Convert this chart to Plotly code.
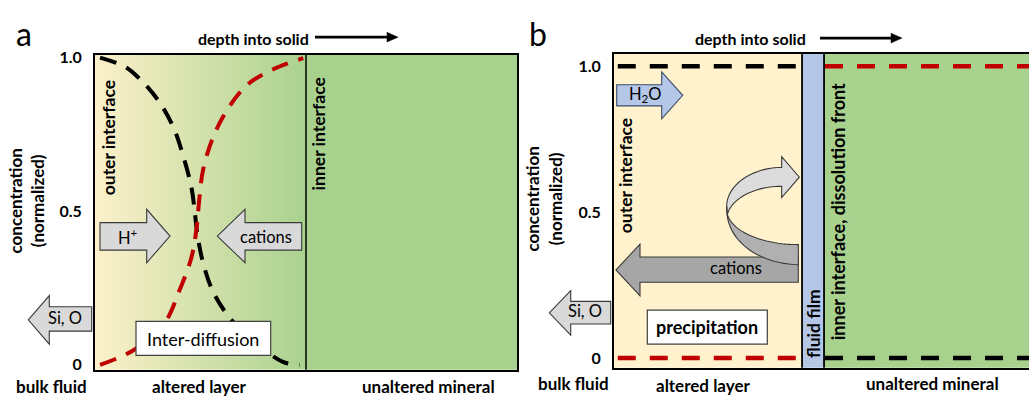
import plotly.graph_objects as go

W, H = 1029, 400
FONT = "Lato, 'Open Sans', sans-serif"

# ---------------- data ----------------
conc_tickvals = [0, 0.5, 1]
conc_ticktext = ["0", "0.5", "1.0"]
region_labels = ["bulk fluid", "altered layer", "unaltered mineral"]

# panel a: normalized concentration across altered layer (0 = outer, 1 = inner interface)
a_black_x = [0.024, 0.142, 0.213, 0.30, 0.371, 0.418, 0.458, 0.474, 0.485, 0.513, 0.561, 0.64, 0.75, 0.89, 0.97]
a_black_y = [1.0, 0.97, 0.93, 0.86, 0.774, 0.68, 0.574, 0.49, 0.426, 0.33, 0.236, 0.152, 0.078, 0.01, 0.0]
a_red_x = [0.024, 0.18, 0.324, 0.403, 0.458, 0.482, 0.493, 0.513, 0.561, 0.624, 0.719, 0.845, 0.987]
a_red_y = [0.0, 0.047, 0.13, 0.247, 0.352, 0.448, 0.53, 0.637, 0.743, 0.827, 0.91, 0.962, 0.998]

# panel b: step profiles (altered layer 0..1, fluid film 1..1.117, mineral beyond)
b_layer_x = [0.02, 0.99]
b_mineral_x = [1.122, 2.4]
b_black_layer = [1, 1]
b_black_mineral = [0, 0]
b_red_layer = [0, 0]
b_red_mineral = [1, 1]

# ---------------- layout geometry ----------------
A_RANGE_X = [0, 2]
A_RANGE_Y = [-0.0158, 1.0095]
B_RANGE_X = [0, 2.207]
B_RANGE_Y = [-0.0333, 1.0433]
FILM = [1.0, 1.117]

YELLOW = "#fff2cc"
GREEN = "#a9d18e"
BLUE = "#b4c7e7"
RED = "#c00000"


def P(x, y):
    return x / W, 1 - y / H


def poly(points, close=True):
    pts = [P(x, y) for x, y in points]
    return "M " + " L ".join(f"{a:.5f},{b:.5f}" for a, b in pts) + (" Z" if close else "")


def bez(p0, c1, c2, p3, n=24):
    out = []
    for i in range(n + 1):
        t = i / n
        mt = 1 - t
        x = mt**3 * p0[0] + 3 * mt**2 * t * c1[0] + 3 * mt * t**2 * c2[0] + t**3 * p3[0]
        y = mt**3 * p0[1] + 3 * mt**2 * t * c1[1] + 3 * mt * t**2 * c2[1] + t**3 * p3[1]
        out.append((x, y))
    return out


def right_arrow(x0, yb0, yb1, xh, yh0, yh1, xt):
    return [(x0, yb0), (xh, yb0), (xh, yh0), (xt, (yh0 + yh1) / 2), (xh, yh1), (xh, yb1), (x0, yb1)]


def left_arrow(xt, xh, yh0, yh1, x1, yb0, yb1):
    return [(xt, (yh0 + yh1) / 2), (xh, yh0), (xh, yb0), (x1, yb0), (x1, yb1), (xh, yb1), (xh, yh1)]


fig = go.Figure()

# gradient fill of altered layer (panel a)
fig.add_trace(go.Scatter(
    x=[0, 1, 1, 0, 0], y=[A_RANGE_Y[0], A_RANGE_Y[0], A_RANGE_Y[1], A_RANGE_Y[1], A_RANGE_Y[0]],
    mode="lines", line=dict(width=0), fill="toself",
    fillgradient=dict(type="horizontal", colorscale=[[0, "#fdf1ca"], [1, GREEN]]),
    hoverinfo="skip", showlegend=False, xaxis="x", yaxis="y"))

dash_a = "17px,11px"
fig.add_trace(go.Scatter(x=a_black_x, y=a_black_y, mode="lines",
                         line=dict(color="black", width=4, dash=dash_a, shape="spline", smoothing=1.0),
                         showlegend=False, xaxis="x", yaxis="y"))
fig.add_trace(go.Scatter(x=a_red_x, y=a_red_y, mode="lines",
                         line=dict(color=RED, width=4, dash=dash_a, shape="spline", smoothing=1.0),
                         showlegend=False, xaxis="x", yaxis="y"))

dash_b = "18px,14px"
fig.add_trace(go.Scatter(x=b_layer_x, y=b_black_layer, mode="lines",
                         line=dict(color="black", width=4.5, dash=dash_b), showlegend=False, xaxis="x2", yaxis="y2"))
fig.add_trace(go.Scatter(x=b_mineral_x, y=b_black_mineral, mode="lines",
                         line=dict(color="black", width=4.5, dash=dash_b), showlegend=False, xaxis="x2", yaxis="y2"))
fig.add_trace(go.Scatter(x=b_layer_x, y=b_red_layer, mode="lines",
                         line=dict(color=RED, width=4.5, dash=dash_b), showlegend=False, xaxis="x2", yaxis="y2"))
fig.add_trace(go.Scatter(x=b_mineral_x, y=b_red_mineral, mode="lines",
                         line=dict(color=RED, width=4.5, dash=dash_b), showlegend=False, xaxis="x2", yaxis="y2"))

shapes = []
# panel a fills
shapes.append(dict(type="rect", xref="x", yref="y domain", x0=1, x1=2, y0=0, y1=1,
                   fillcolor=GREEN, line=dict(width=0), layer="below"))
shapes.append(dict(type="line", xref="x", yref="y domain", x0=1, x1=1, y0=0, y1=1,
                   line=dict(color="black", width=1.5)))
# panel b fills
shapes.append(dict(type="rect", xref="x2", yref="y2 domain", x0=0, x1=FILM[0], y0=0, y1=1,
                   fillcolor=YELLOW, line=dict(width=0), layer="below"))
shapes.append(dict(type="rect", xref="x2", yref="y2 domain", x0=FILM[0], x1=FILM[1], y0=0, y1=1,
                   fillcolor=BLUE, line=dict(width=0), layer="below"))
shapes.append(dict(type="rect", xref="x2", yref="y2 domain", x0=FILM[1], x1=3, y0=0, y1=1,
                   fillcolor=GREEN, line=dict(width=0), layer="below"))
for xv in FILM:
    shapes.append(dict(type="line", xref="x2", yref="y2 domain", x0=xv, x1=xv, y0=0, y1=1,
                       line=dict(color="black", width=1.8)))

OUT = dict(color="#3a3a3a", width=1.1)


def add_poly(points, fill, line=OUT):
    shapes.append(dict(type="path", xref="paper", yref="paper", path=poly(points),
                       fillcolor=fill, line=line, layer="above"))


# "depth into solid" arrows (line + small head)
for x0, x1, y in [(315, 388, 31), (820, 892, 32)]:
    shapes.append(dict(type="path", xref="paper", yref="paper", path=poly([(x0, y), (x1, y)], close=False),
                       line=dict(color="black", width=2.6)))
    add_poly([(x1 - 1, y - 5), (x1 + 10, y), (x1 - 1, y + 5)], "black", dict(color="black", width=0.5))

# panel a arrows
add_poly(right_arrow(100, 221.7, 250, 146.7, 208, 263, 170), "#d9d9d9")
add_poly(left_arrow(217.3, 245, 208, 263, 301.7, 221.7, 250), "#d9d9d9")
add_poly(left_arrow(28.3, 49.3, 296.7, 346.7, 91.7, 308.3, 333.3), "#d9d9d9")
add_poly([(136, 323.3), (270.7, 323.3), (270.7, 358.3), (136, 358.3)], "white", dict(color="#404040", width=1.2))

# panel b arrows
add_poly(right_arrow(616.7, 80, 101.7, 661.7, 66.7, 115, 682.7), BLUE, dict(color="#3b4a66", width=1.1))
add_poly(left_arrow(616, 640, 243.8, 297, 798.3, 257, 283), "#a6a6a6")
add_poly(left_arrow(549.3, 570.7, 291.7, 337.3, 610.7, 302.7, 326), "#d9d9d9")
add_poly([(647.3, 311.7), (767.3, 311.7), (767.3, 346.7), (647.3, 346.7)], "white", dict(color="#404040", width=1.2))


def z4(p):
    return (600 + p[0] / 3, 150 + p[1] / 3)


outer_top = bez(z4((545, 45)), z4((455, 45)), z4((380, 100)), z4((380, 165)))
inner_top = bez(z4((545, 103)), z4((465, 103)), z4((395, 140)), z4((382, 190)))
light = outer_top + list(reversed(inner_top)) + [z4((545, 138)), z4((598, 75)), z4((545, 12))]
add_poly(light, "#dcdcdc")
outer_low = bez(z4((380, 165)), z4((376, 275)), z4((480, 342)), z4((595, 345)))
inner_low = bez(z4((595, 283)), z4((495, 283)), z4((400, 248)), z4((382, 190)))
dark = outer_low + inner_low
add_poly(dark, "#b0b0b0")

annotations = []


def txt(x, y, s, size=15, bold=True, angle=0, xanchor="center"):
    fx, fy = P(x, y)
    annotations.append(dict(x=fx, y=fy, xref="paper", yref="paper", text=f"<b>{s}</b>" if bold else s,
                            showarrow=False, textangle=angle, xanchor=xanchor, yanchor="middle",
                            font=dict(size=size, family=FONT, color="black"), borderpad=0))


# panel letters
txt(24, 27, "a", size=32, bold=False)
txt(538, 27, "b", size=32, bold=False)
# depth labels
txt(253, 32, "depth into solid", size=16)
txt(750, 32, "depth into solid", size=16)
# y titles
txt(26, 200, "concentration<br>(normalized)", size=17, angle=-90)
txt(544, 198, "concentration<br>(normalized)", size=17, angle=-90)
# interfaces
txt(108, 135, "outer interface", size=17.5, angle=-90)
txt(318, 131, "inner interface", size=17.5, angle=-90)
txt(625, 174, "outer interface", size=17.5, angle=-90)
txt(813, 326, "fluid film", size=17.5, angle=-90)
txt(838, 211, "inner interface, dissolution front", size=18, angle=-90)
# region labels
for (xa, ya), (xb, yb), lab in zip([(51, 390), (199, 390), (428, 390)], [(573, 387), (703, 389), (932, 387)], region_labels):
    txt(xa, ya, lab, size=17)
    txt(xb, yb, lab, size=17)
# arrow labels
txt(128, 236, "H<sup>+</sup>", size=16.5, bold=False)
txt(266, 236, "cations", size=16.5, bold=False)
txt(65, 320, "Si, O", size=16.5, bold=False)
txt(203, 341, "Inter-diffusion", size=18, bold=False)
txt(645, 90, "H<sub>2</sub>O", size=16.5, bold=False)
txt(736, 268, "cations", size=16.5, bold=False)
txt(585, 313, "Si, O", size=16.5, bold=False)
txt(707, 329, "precipitation", size=18, bold=True)

ax_common = dict(showgrid=False, zeroline=False, showline=True, linecolor="black", linewidth=1.8)
yax_common = dict(ax_common, tickvals=conc_tickvals, ticktext=conc_ticktext, ticks="outside", ticklen=8,
                  tickcolor="rgba(0,0,0,0)", tickfont=dict(size=16, family=FONT, color="black", weight="bold"))

fig.update_layout(
    width=W, height=H, margin=dict(l=0, r=0, t=0, b=0),
    paper_bgcolor="white", plot_bgcolor="rgba(0,0,0,0)",
    xaxis=dict(ax_common, domain=[95 / W, 517 / W], range=A_RANGE_X, mirror=True, showticklabels=False, anchor="y"),
    yaxis=dict(yax_common, domain=[1 - 373 / H, 1 - 49 / H], range=A_RANGE_Y, mirror=True, anchor="x"),
    xaxis2=dict(ax_common, domain=[614 / W, 1.0], range=B_RANGE_X, mirror=True, showticklabels=False, anchor="y2"),
    yaxis2=dict(yax_common, domain=[1 - 371 / H, 1 - 48 / H], range=B_RANGE_Y, mirror=False, anchor="x2"),
    shapes=shapes, annotations=annotations, showlegend=False,
)

fig.write_html("out.html")
